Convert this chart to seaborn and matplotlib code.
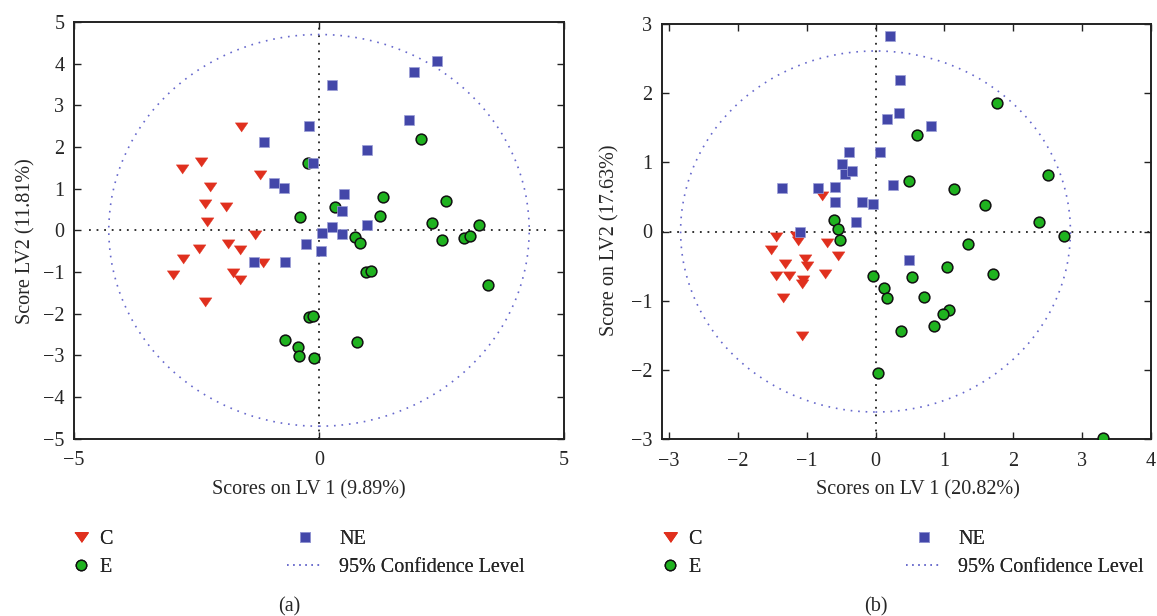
import numpy as np
import pandas as pd
import matplotlib
matplotlib.use("Agg")
import matplotlib.pyplot as plt
from matplotlib.patches import Ellipse
from matplotlib.lines import Line2D
import seaborn as sns

# ---------------- data: panel (a) ----------------
a_C_x = [-1.59, -2.80, -2.40, -1.20, -2.22, -2.33, -1.90, -2.29, -1.30, -2.44, -1.86, -1.61, -2.77, -1.14, -2.97, -1.75, -1.61, -2.33]
a_C_y = [2.48, 1.48, 1.63, 1.33, 1.04, 0.64, 0.57, 0.20, -0.10, -0.44, -0.32, -0.46, -0.68, -0.78, -1.06, -1.02, -1.18, -1.72]
a_NE_x = [2.40, 1.93, 0.26, 1.84, -0.20, -1.12, 0.98, -0.12, -0.92, -0.72, 0.50, 0.46, 0.98, 0.27, 0.07, 0.46, -0.26, 0.04, -1.32, -0.70]
a_NE_y = [4.07, 3.81, 3.48, 2.65, 2.51, 2.12, 1.92, 1.61, 1.14, 1.02, 0.87, 0.47, 0.14, 0.07, -0.06, -0.09, -0.33, -0.50, -0.75, -0.75]
a_E_x = [2.08, -0.22, 1.30, 2.59, 0.32, -0.38, 1.24, 2.31, 3.27, 0.74, 0.84, 2.51, 2.95, 3.09, 0.96, 1.06, 3.45, -0.20, -0.13, -0.69, 0.78, -0.42, -0.40, -0.10]
a_E_y = [2.20, 1.61, 0.79, 0.71, 0.55, 0.31, 0.34, 0.17, 0.14, -0.17, -0.30, -0.23, -0.18, -0.14, -1.01, -0.97, -1.30, -2.07, -2.06, -2.64, -2.67, -2.81, -3.02, -3.07]
a_ellipse = (4.29, 4.70)   # semi-axes of 95% confidence ellipse

# ---------------- data: panel (b) ----------------
b_C_x = [-0.78, -1.45, -1.16, -1.12, -0.70, -1.52, -0.54, -1.31, -1.03, -1.00, -1.45, -1.26, -0.73, -1.06, -1.07, -1.34, -1.07]
b_C_y = [0.51, -0.08, -0.07, -0.14, -0.17, -0.27, -0.36, -0.47, -0.40, -0.50, -0.64, -0.64, -0.62, -0.70, -0.76, -0.96, -1.51]
b_NE_x = [0.21, 0.35, 0.17, 0.34, 0.80, -0.39, 0.07, -0.48, -0.44, -0.34, -1.36, -0.84, -0.59, 0.26, -0.59, -0.20, -0.04, -0.29, -1.10, 0.48]
b_NE_y = [2.83, 2.19, 1.63, 1.72, 1.53, 1.15, 1.15, 0.97, 0.83, 0.87, 0.63, 0.63, 0.65, 0.67, 0.43, 0.43, 0.40, 0.14, 0.00, -0.41]
b_E_x = [1.76, 0.60, 0.49, 2.51, 1.14, 1.59, 2.37, -0.60, -0.54, -0.51, 2.74, 1.34, 1.04, 1.70, -0.03, 0.53, 0.12, 0.17, 0.71, 1.07, 0.98, 0.85, 0.37, 0.04, 3.30]
b_E_y = [1.86, 1.40, 0.73, 0.81, 0.61, 0.38, 0.14, 0.17, 0.03, -0.12, -0.07, -0.18, -0.51, -0.61, -0.65, -0.66, -0.81, -0.96, -0.95, -1.14, -1.19, -1.36, -1.44, -2.04, -2.98]
b_ellipse = (2.83, 2.61)

a_xlabel = "Scores on LV 1 (9.89%)"
a_ylabel = "Score LV2 (11.81%)"
b_xlabel = "Scores on LV 1 (20.82%)"
b_ylabel = "Score on LV2 (17.63%)"
legend_labels = ["C", "E", "NE", "95% Confidence Level"]
panel_tags = ["(a)", "(b)"]

RED = "#e0301e"
GREEN = "#1fb21f"
BLUE = "#4347a9"
ELL = "#6668cc"
TRI = [(-1, 0.72), (1, 0.72), (0, -0.72)]


def frame(cx, cy, ex, ey, nx, ny):
    return pd.DataFrame({
        "x": list(cx) + list(ex) + list(nx),
        "y": list(cy) + list(ey) + list(ny),
        "group": ["C"] * len(cx) + ["E"] * len(ex) + ["NE"] * len(nx),
    })


sns.set_style("ticks")
plt.rcParams["font.family"] = ["Liberation Serif", "DejaVu Serif"]
FS = 14.5

fig = plt.figure(figsize=(11.57, 6.16), dpi=100)
W, H = 1157, 616


def axes_px(l, t, r, b):
    return fig.add_axes([l / W, 1 - b / H, (r - l) / W, (b - t) / H])


ax1 = axes_px(74, 22, 564, 438.7)
ax2 = axes_px(662, 24, 1151, 439)

panels = [
    (ax1, frame(a_C_x, a_C_y, a_E_x, a_E_y, a_NE_x, a_NE_y), a_ellipse, (-5, 5), (-5, 5),
     [-5, 0, 5], list(range(-5, 6)), a_xlabel, a_ylabel, (0.03, 0.97)),
    (ax2, frame(b_C_x, b_C_y, b_E_x, b_E_y, b_NE_x, b_NE_y), b_ellipse, (-3.1, 4), (-3, 3),
     list(range(-3, 5)), list(range(-3, 4)), b_xlabel, b_ylabel, (0, 1)),
]

for ax, df, ell, xl, yl, xt, yt, xlab, ylab, hspan in panels:
    ax.axhline(0, xmin=hspan[0], xmax=hspan[1], color="#222222", lw=1.3, ls=(0, (1, 3.2)), zorder=1)
    ax.axvline(0, color="#222222", lw=1.3, ls=(0, (1, 3.2)), zorder=1)
    ax.add_patch(Ellipse((0, 0), 2 * ell[0], 2 * ell[1], fill=False, ec=ELL, lw=1.2,
                         ls=(0, (1, 3.5)), zorder=1))
    sns.scatterplot(data=df[df.group == "C"], x="x", y="y", ax=ax, color=RED, marker=TRI,
                    s=85, edgecolor=RED, linewidth=0.3, zorder=3, legend=False)
    sns.scatterplot(data=df[df.group == "E"], x="x", y="y", ax=ax, color=GREEN, marker="o",
                    s=60, edgecolor="#111111", linewidth=1.1, zorder=3, legend=False)
    sns.scatterplot(data=df[df.group == "NE"], x="x", y="y", ax=ax, color=BLUE, marker="s",
                    s=44, edgecolor="#9da0d8", linewidth=0.5, zorder=3, legend=False)
    ax.set_xlim(*xl)
    ax.set_ylim(*yl)
    ax.set_xticks(xt)
    ax.set_yticks(yt)
    ax.tick_params(direction="in", length=5, width=1.0, top=True, right=True,
                   labelsize=FS, pad=7, color="#222222")
    ax.tick_params(axis="x", pad=9)
    for sp in ax.spines.values():
        sp.set_linewidth(1.4)
        sp.set_color("#222222")
    ax.set_xlabel(xlab, fontsize=FS)
    ax.set_ylabel(ylab, fontsize=FS)

ax1.xaxis.set_label_coords(0.48, -0.1)
ax2.xaxis.set_label_coords(0.523, -0.1)
ax1.yaxis.set_label_coords(-0.078, 0.475)
ax2.yaxis.set_label_coords(-0.087, 0.48)


def legends(x_col1, x_col2):
    h_c = Line2D([], [], ls="none", marker=TRI, ms=9.5, color=RED, mec=RED)
    h_e = Line2D([], [], ls="none", marker="o", ms=7.5, color=GREEN, mec="#111111", mew=1.0)
    h_ne = Line2D([], [], ls="none", marker="s", ms=6.5, color=BLUE, mec="#9da0d8", mew=0.5)
    h_ci = Line2D([], [], color=ELL, lw=1.1, ls=(0, (1, 3)))
    top = 1 - 530 / H
    kw = dict(loc="upper left", frameon=False, fontsize=FS, borderpad=0,
              borderaxespad=0, labelspacing=0.45)
    l1 = fig.legend([h_c, h_e], legend_labels[:2], bbox_to_anchor=(x_col1 / W, top),
                    handlelength=0.9, handletextpad=0.45, **kw)
    l2 = fig.legend([h_ne, h_ci], legend_labels[2:], bbox_to_anchor=(x_col2 / W, top),
                    handlelength=1.75, handletextpad=0.85, **kw)
    fig.add_artist(l1)
    fig.add_artist(l2)


legends(72, 287)
legends(661, 906)

fig.text(289 / W, 1 - 607 / H, panel_tags[0], ha="center", va="center", fontsize=FS)
fig.text(876 / W, 1 - 607 / H, panel_tags[1], ha="center", va="center", fontsize=FS)

fig.savefig("out.png", dpi=100)
